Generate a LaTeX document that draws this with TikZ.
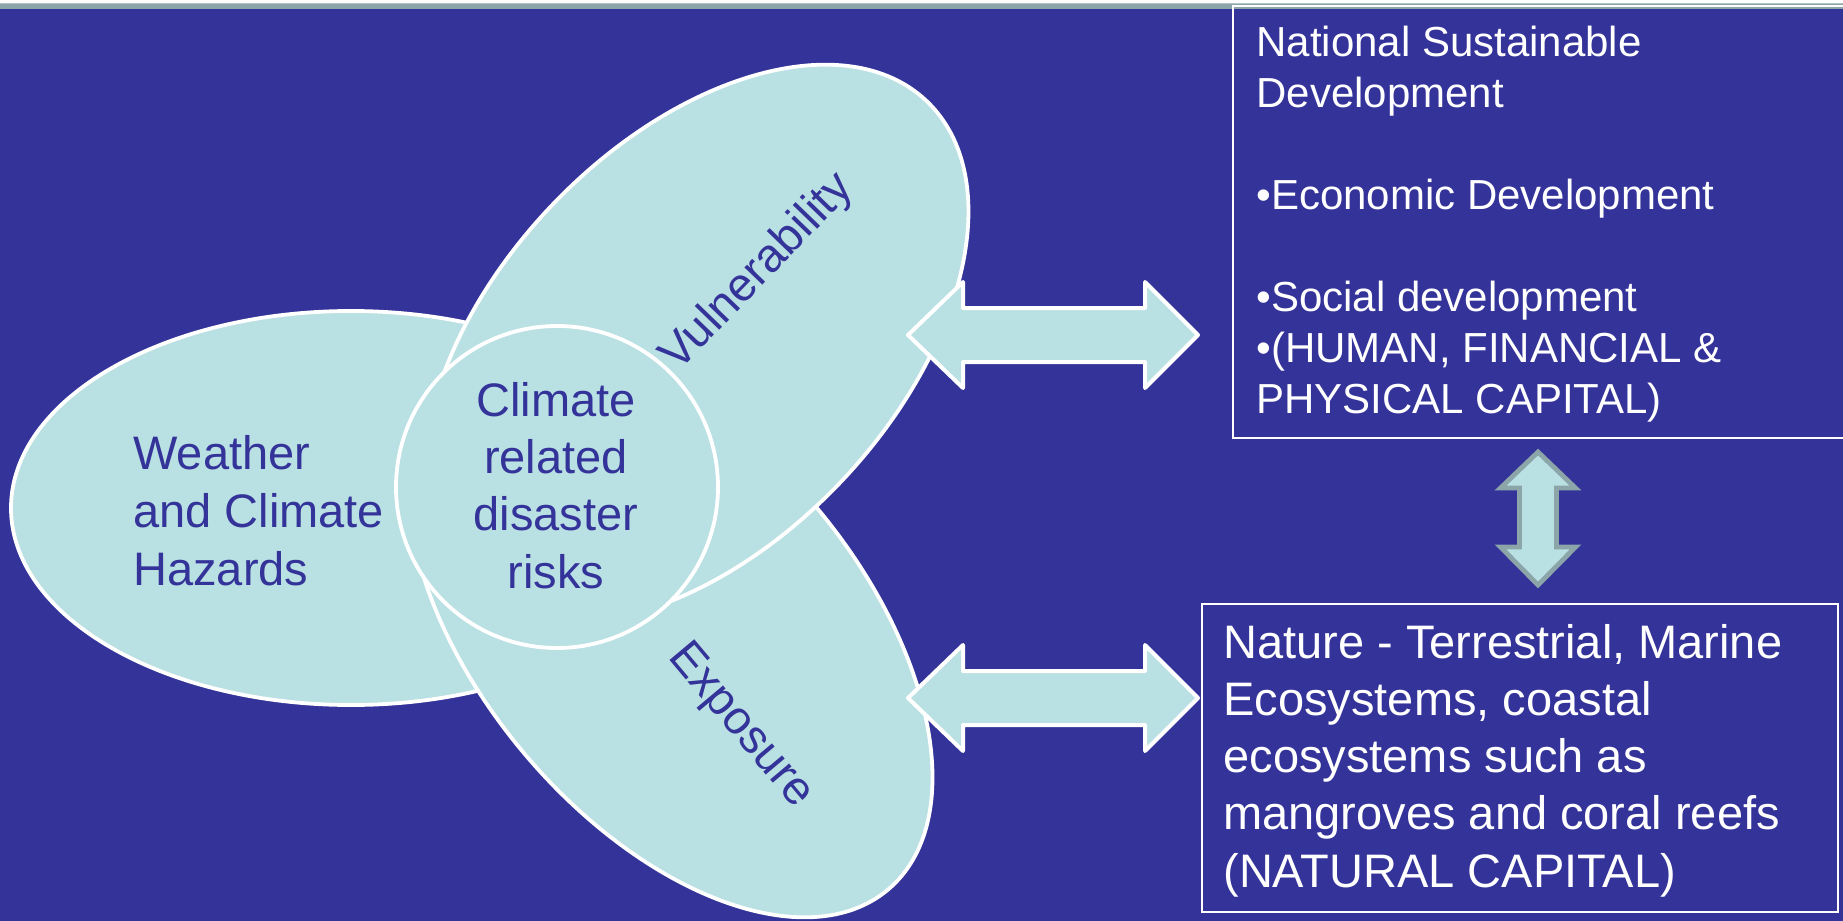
\documentclass[tikz,border=0pt]{standalone}
\usepackage{fontspec}
\setmainfont{Liberation Sans}
\definecolor{bg}{RGB}{51,51,153}
\definecolor{lite}{RGB}{185,224,227}
\definecolor{band}{RGB}{139,165,169}
\definecolor{bandlite}{RGB}{176,196,198}
\definecolor{agray}{RGB}{139,165,169}
\begin{document}
\begin{tikzpicture}[x=0.5pt,y=-0.5pt,
  blob/.style={fill=lite,draw=white,line width=1.9pt},
  lbl/.style={text=bg,font=\fontsize{23.5}{29}\selectfont,inner sep=0pt},
  wtxt/.style={text=white,inner sep=0pt,align=left,anchor=base west},
  boxline/.style={draw=white,line width=1pt},
  barrow/.style={fill=lite,draw=white,line width=2pt,line join=round},
  garrow/.style={fill=lite,draw=agray,line width=2.4pt,line join=miter}]
\useasboundingbox (0,0) rectangle (1843,921);
\clip (0,0) rectangle (1843,921);
% background and top band
\fill[bg] (0,0) rectangle (1843,921);
\fill[white] (0,0) rectangle (1843,3);
\fill[band] (0,3) rectangle (1843,8.5);
\fill[bandlite] (0,3) rectangle (1843,4.2);
% ellipses
\draw[blob] (351,508) ellipse [x radius=340, y radius=197];
\draw[blob, rotate around={-50:(670,630)}] (670,630) ellipse [x radius=339, y radius=191];
\draw[blob, rotate around={46.5:(696,344)}] (696,344) ellipse [x radius=335, y radius=200];
\draw[blob] (557,487) circle [radius=161];
% labels (anchored at the baseline of the last line)
\node[lbl, align=left, anchor=base west] (haz) at (133,585) {Weather\\and Climate\\Hazards};
\node[lbl, align=center, anchor=base, font=\fontsize{23.5}{28.6}\selectfont] (risk) at (556,588) {Climate\\related\\disaster\\risks};
\node[lbl, rotate=46] (vul) at (758,273) {Vulnerability};
\node[lbl, rotate=-50] (exp) at (740,726) {Exposure};
% boxes
\draw[boxline] (1233,6) rectangle (1870,438);
\draw[boxline] (1202,604) rectangle (1838,912);
\node[wtxt, font=\fontsize{21}{25.5}\selectfont] (nsd) at (1256,413)
  {National Sustainable\\Development\\[25.5pt]•Economic Development\\[25.5pt]•Social development\\•(HUMAN, FINANCIAL \&\\PHYSICAL CAPITAL)};
\node[wtxt, font=\fontsize{23.5}{28.6}\selectfont] (nat) at (1223,887)
  {Nature - Terrestrial, Marine\\Ecosystems, coastal\\ecosystems such as\\mangroves and coral reefs\\(NATURAL CAPITAL)};
% block arrows
\draw[barrow] (908,335) -- (963,282) -- (963,308) -- (1145,308) -- (1145,282) -- (1198,335)
  -- (1145,388) -- (1145,362) -- (963,362) -- (963,388) -- cycle;
\draw[barrow] (908,698) -- (963,645) -- (963,671) -- (1145,671) -- (1145,645) -- (1198,698)
  -- (1145,751) -- (1145,725) -- (963,725) -- (963,751) -- cycle;
\draw[garrow] (1538,452) -- (1575.5,488) -- (1556.5,488) -- (1556.5,547) -- (1575.5,547) -- (1538,585)
  -- (1500.5,547) -- (1519.5,547) -- (1519.5,488) -- (1500.5,488) -- cycle;
\end{tikzpicture}
\end{document}
